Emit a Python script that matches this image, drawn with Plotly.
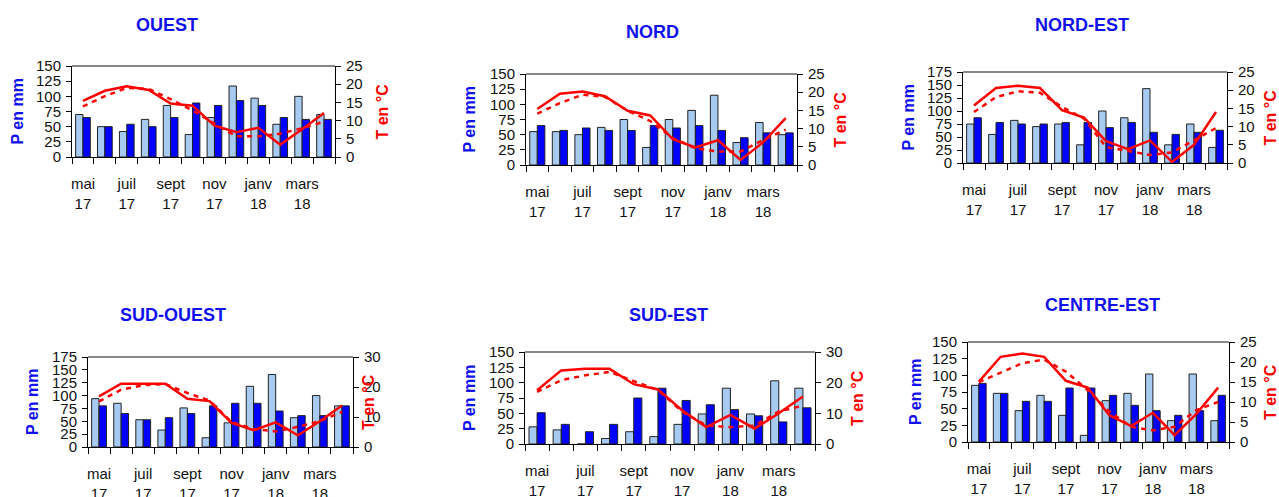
import plotly.graph_objects as go

# ---------------- data ----------------
months = ["mai 17", "juin 17", "juil 17", "août 17", "sept 17", "oct 17",
          "nov 17", "déc 17", "janv 18", "févr 18", "mars 18", "avr 18"]
tick_labels = ["mai<br>17", "", "juil<br>17", "", "sept<br>17", "",
               "nov<br>17", "", "janv<br>18", "", "mars<br>18", ""]
regions = ["OUEST", "NORD", "NORD-EST", "SUD-OUEST", "SUD-EST", "CENTRE-EST"]

# precipitation, normals (light bars), mm
ouest_p_norm = [70, 50, 42, 62, 85, 37, 65, 117, 97, 54, 100, 70]
nord_p_norm = [55, 55, 50, 62, 75, 29, 75, 90, 115, 37, 70, 50]
nordest_p_norm = [75, 55, 82, 70, 75, 35, 100, 87, 143, 35, 75, 30]
sudouest_p_norm = [94, 85, 53, 33, 76, 18, 47, 118, 141, 57, 100, 80]
sudest_p_norm = [28, 23, 0, 9, 20, 12, 32, 49, 91, 49, 103, 91]
centreest_p_norm = [85, 73, 47, 70, 40, 10, 62, 73, 102, 32, 102, 32]

# precipitation, observed (dark bars), mm
ouest_p_obs = [65, 50, 54, 50, 65, 89, 85, 93, 85, 65, 62, 62]
nord_p_obs = [65, 57, 61, 57, 57, 65, 61, 65, 57, 45, 53, 53]
nordest_p_obs = [87, 78, 75, 75, 78, 78, 68, 78, 59, 55, 59, 63]
sudouest_p_obs = [80, 65, 53, 57, 65, 80, 85, 85, 70, 61, 61, 80]
sudest_p_obs = [51, 32, 20, 32, 75, 91, 71, 64, 56, 46, 36, 59]
centreest_p_obs = [88, 73, 61, 61, 81, 81, 70, 55, 47, 40, 47, 70]

# temperature, observed (solid line), °C
ouest_t_obs = [15.4, 18.2, 19.4, 18.4, 14.7, 14.1, 8.6, 6.8, 8.0, 3.4, 7.6, 12.1]
nord_t_obs = [15.4, 19.6, 20.2, 18.9, 14.9, 13.6, 7.1, 4.8, 6.8, 1.4, 6.2, 12.9]
nordest_t_obs = [15.8, 20.6, 21.2, 20.6, 14.5, 12.5, 6.0, 3.8, 6.2, 0.3, 5.0, 14.0]
sudouest_t_obs = [16.9, 21.1, 21.1, 21.1, 16.1, 15.3, 8.0, 5.6, 8.2, 3.9, 8.6, 13.8]
sudest_t_obs = [17.5, 24.0, 24.5, 24.5, 19.5, 17.8, 11.0, 5.5, 9.5, 5.0, 10.0, 15.5]
centreest_t_obs = [15.1, 21.3, 22.1, 21.3, 15.3, 13.6, 6.7, 4.0, 7.3, 1.7, 7.0, 13.6]

# temperature, normals (dashed line), °C
ouest_t_norm = [13.9, 16.7, 19.0, 18.7, 15.9, 12.8, 9.2, 5.7, 5.7, 6.4, 7.9, 9.7]
nord_t_norm = [14.1, 17.0, 19.3, 18.7, 14.9, 12.1, 7.4, 4.6, 3.7, 3.7, 6.9, 9.7]
nordest_t_norm = [14.0, 18.1, 19.7, 19.3, 15.4, 12.2, 4.4, 3.2, 2.2, 2.9, 6.3, 9.6]
sudouest_t_norm = [15.2, 19.1, 20.6, 21.0, 18.0, 15.5, 8.3, 6.0, 5.2, 6.7, 8.6, 11.7]
sudest_t_norm = [17.0, 20.8, 22.4, 23.5, 20.5, 17.6, 10.6, 6.0, 5.5, 6.0, 10.6, 12.5]
centreest_t_norm = [15.0, 17.4, 19.7, 20.6, 17.6, 13.0, 7.6, 3.8, 2.9, 3.8, 8.0, 10.0]

p_norm = [ouest_p_norm, nord_p_norm, nordest_p_norm, sudouest_p_norm, sudest_p_norm, centreest_p_norm]
p_obs = [ouest_p_obs, nord_p_obs, nordest_p_obs, sudouest_p_obs, sudest_p_obs, centreest_p_obs]
t_obs = [ouest_t_obs, nord_t_obs, nordest_t_obs, sudouest_t_obs, sudest_t_obs, centreest_t_obs]
t_norm = [ouest_t_norm, nord_t_norm, nordest_t_norm, sudouest_t_norm, sudest_t_norm, centreest_t_norm]

p_max = [150, 150, 175, 175, 150, 150]
t_max = [25, 25, 25, 30, 30, 25]
t_step = [5, 5, 5, 10, 10, 5]

# ---------------- layout geometry (pixels) ----------------
W, H = 1279, 497
boxes = [(72, 66, 335, 157), (526, 74, 797, 165), (963, 72, 1227, 163),
         (88, 357, 353, 447), (525, 352, 815, 444), (968, 342, 1229, 442)]
title_pos = [(167, 25), (652, 32), (1082, 25), (173, 315), (668, 315), (1102, 305)]
left_title_x = [17, 469, 908, 32, 469, 915]
right_title_x = [382, 840, 1270, 368, 857, 1270]

FONT = "Liberation Sans, Arial, sans-serif"
LIGHT = "#A6CAF0"
DARK = "#0000FF"
RED = "#FF0000"


def fx(px):
    return px / W


def fy(py):
    return 1 - py / H


fig = go.Figure()
layout = dict(
    width=W, height=H, margin=dict(l=0, r=0, t=0, b=0, pad=0),
    paper_bgcolor="white", plot_bgcolor="white",
    barmode="group", bargap=0.33, bargroupgap=0.0,
    showlegend=False, font=dict(family=FONT, size=14, color="#111"),
)
shapes = []
annotations = []

for i in range(6):
    n = i + 1
    xa = "x" if n == 1 else f"x{n}"
    yl_n = 2 * i + 1
    yr_n = 2 * i + 2
    yl = "y" if yl_n == 1 else f"y{yl_n}"
    yr = f"y{yr_n}"
    x0, y0, x1, y1 = boxes[i]

    fig.add_trace(go.Bar(x=months, y=p_norm[i], xaxis=xa, yaxis=yl,
                         marker=dict(color=LIGHT, line=dict(color="#222", width=1))))
    fig.add_trace(go.Bar(x=months, y=p_obs[i], xaxis=xa, yaxis=yl,
                         marker=dict(color=DARK, line=dict(color="#222", width=1))))
    fig.add_trace(go.Scatter(x=months, y=t_norm[i], xaxis=xa, yaxis=yr, mode="lines",
                             line=dict(color=RED, width=2.5, dash="5px,5px")))
    fig.add_trace(go.Scatter(x=months, y=t_obs[i], xaxis=xa, yaxis=yr, mode="lines",
                             line=dict(color=RED, width=2.5)))

    layout["xaxis" if n == 1 else f"xaxis{n}"] = dict(
        domain=[fx(x0), fx(x1)], anchor=yl, type="category",
        categoryorder="array", categoryarray=months, range=[-0.5, 11.5],
        tickmode="array", tickvals=months, ticktext=tick_labels,
        tickson="boundaries", ticks="outside", ticklen=6, tickcolor="black",
        showline=True, linecolor="black", linewidth=1, showgrid=False,
        zeroline=False, tickangle=0, ticklabelstandoff=13, automargin=False,
        tickfont=dict(family=FONT, size=15, color="#111"), fixedrange=True,
    )
    layout["yaxis" if yl_n == 1 else f"yaxis{yl_n}"] = dict(
        domain=[fy(y1), fy(y0)], anchor=xa, range=[0, p_max[i]],
        tickmode="array", tickvals=list(range(0, p_max[i] + 1, 25)),
        ticks="outside", ticklen=5, tickcolor="black",
        showline=True, linecolor="black", linewidth=1, showgrid=False,
        zeroline=False, tickfont=dict(family=FONT, size=15, color="#111"),
        ticklabelstandoff=2, fixedrange=True, automargin=False,
    )
    layout[f"yaxis{yr_n}"] = dict(
        domain=[fy(y1), fy(y0)], anchor=xa, overlaying=yl, side="right",
        range=[0, t_max[i]],
        tickmode="array", tickvals=list(range(0, t_max[i] + 1, t_step[i])),
        ticks="outside", ticklen=5, tickcolor="black",
        showline=True, linecolor="black", linewidth=1, showgrid=False,
        zeroline=False, tickfont=dict(family=FONT, size=15, color="#111"),
        ticklabelstandoff=2, fixedrange=True, automargin=False,
    )
    # grey top border of each plot area
    shapes.append(dict(type="line", xref=f"{xa} domain", yref=f"{yl} domain",
                       x0=0, x1=1, y0=1, y1=1, line=dict(color="#888", width=2)))
    # panel title and axis titles
    tx, ty = title_pos[i]
    annotations.append(dict(text=f"<b>{regions[i]}</b>", xref="paper", yref="paper",
                            x=fx(tx), y=fy(ty), xanchor="center", yanchor="middle",
                            showarrow=False, font=dict(family=FONT, size=18, color="#1010F0")))
    cy = fy((y0 + y1) / 2)
    annotations.append(dict(text="<b>P en mm</b>", xref="paper", yref="paper",
                            x=fx(left_title_x[i]), y=cy, xanchor="center", yanchor="middle",
                            textangle=-90, showarrow=False,
                            font=dict(family=FONT, size=16, color="#1010F0")))
    annotations.append(dict(text="<b>T en °C</b>", xref="paper", yref="paper",
                            x=fx(right_title_x[i]), y=cy, xanchor="center", yanchor="middle",
                            textangle=-90, showarrow=False,
                            font=dict(family=FONT, size=16, color=RED)))

layout["shapes"] = shapes
layout["annotations"] = annotations
fig.update_layout(**layout)

fig.write_html("out.html", config={"displayModeBar": False},
               post_script="document.body.style.margin='0';")
